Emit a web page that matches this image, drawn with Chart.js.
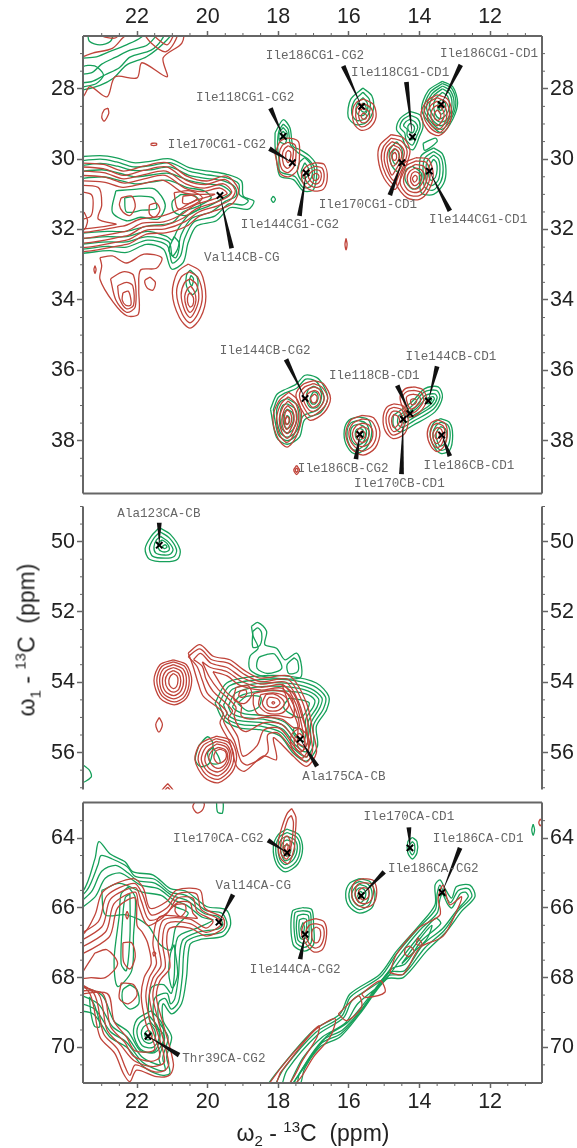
<!DOCTYPE html>
<html>
<head>
<meta charset="utf-8">
<title>13C-13C spectrum</title>
<script src="https://cdn.jsdelivr.net/npm/chart.js@4/dist/chart.umd.min.js"></script>
<style>
    html, body { margin: 0; background: #fff; }
    #page { position: relative; width: 577px; height: 1148px; overflow: hidden; font-family: "Liberation Sans", Arial, sans-serif; color: #222; }
    canvas { position: absolute; left: 0; filter: blur(0.3px); }
    .axis-title { position: absolute; font-size: 23px; white-space: nowrap; }
    .axis-title sub, .axis-title sup { font-size: 15px; line-height: 0; }
    #yTitle { left: 27px; top: 640px; transform: translate(-50%, -50%) rotate(-90deg); }
    #xTitle { left: 313px; top: 1133px; transform: translate(-50%, -50%); }
</style>
</head>
<body>
<div id="page">
    <canvas id="topPanel" width="577" height="500" style="top:0"></canvas>
    <canvas id="midPanel" width="577" height="296" style="top:500px"></canvas>
    <canvas id="lowPanel" width="577" height="352" style="top:796px"></canvas>
    <div class="axis-title" id="yTitle">&omega;<sub>1</sub> - <sup>13</sup>C&nbsp; (ppm)</div>
    <div class="axis-title" id="xTitle">&omega;<sub>2</sub> - <sup>13</sup>C&nbsp; (ppm)</div>
</div>
<script>
// ticks (ppm)
const xTicks = [22, 20, 18, 16, 14, 12];
const xMinor = [23, 22.5, 21.5, 21, 20.5, 19.5, 19, 18.5, 17.5, 17, 16.5, 15.5, 15, 14.5, 13.5, 13, 12.5, 11.5, 11];
const topYTicks = [28, 30, 32, 34, 36, 38];
const topYMinor = [27, 27.5, 28.5, 29, 29.5, 30.5, 31, 31.5, 32.5, 33, 33.5, 34.5, 35, 35.5, 36.5, 37, 37.5, 38.5, 39];
const midYTicks = [50, 52, 54, 56];
const midYMinor = [49, 49.5, 50.5, 51, 51.5, 52.5, 53, 53.5, 54.5, 55, 55.5, 56.5, 57];
const lowYTicks = [64, 66, 68, 70];
const lowYMinor = [63.5, 64.5, 65, 65.5, 66.5, 67, 67.5, 68.5, 69, 69.5, 70.5];

// assigned cross peaks, top panel
const topNames = ['Ile186CG1-CG2', 'Ile118CG1-CD1', 'Ile186CG1-CD1', 'Ile118CG1-CG2', 'Ile170CG1-CG2', 'Ile144CG1-CG2', 'Ile170CG1-CD1', 'Ile144CG1-CD1', 'Val14CB-CG', 'Ile144CB-CG2', 'Ile118CB-CD1', 'Ile144CB-CD1', 'Ile186CB-CG2', 'Ile170CB-CD1', 'Ile186CB-CD1'];
const topPeaks = [[15.64, 28.5], [14.2, 29.37], [13.39, 28.45], [17.86, 29.35], [17.6, 30.1], [17.21, 30.39], [14.5, 30.1], [13.72, 30.34], [19.65, 31.03], [17.24, 36.8], [14.27, 37.23], [13.75, 36.87], [15.69, 37.82], [14.46, 37.39], [13.37, 37.84]];
const topNameAt = [[16.96, 27.07], [14.55, 27.54], [12.03, 27.01], [18.94, 28.26], [19.74, 29.6], [17.67, 31.87], [15.46, 31.29], [12.34, 31.71], [19.03, 32.79], [18.37, 35.45], [15.28, 36.16], [13.11, 35.62], [16.16, 38.79], [14.57, 39.21], [12.6, 38.71]];
const topTails = [[16.16, 27.35], [14.37, 27.81], [12.83, 27.32], [18.22, 28.55], [18.25, 29.7], [17.4, 31.61], [14.84, 31.02], [13.14, 31.47], [19.32, 32.53], [17.78, 35.69], [14.63, 36.43], [13.5, 35.89], [15.8, 38.52], [14.51, 38.95], [13.14, 38.44]];

// middle panel
const midNames = ['Ala123CA-CB', 'Ala175CA-CB'];
const midPeaks = [[21.37, 50.1], [17.38, 55.62]];
const midNameAt = [[21.38, 49.2], [16.14, 56.68]];
const midTails = [[21.37, 49.46], [16.9, 56.39]];

// bottom panel
const lowNames = ['Ile170CA-CG2', 'Val14CA-CG', 'Thr39CA-CG2', 'Ile144CA-CG2', 'Ile186CA-CG2', 'Ile170CA-CD1', 'Ile186CA-CD1'];
const lowPeaks = [[17.75, 64.42], [19.68, 66.41], [21.69, 69.68], [17.24, 66.76], [15.65, 65.65], [14.27, 64.28], [13.36, 65.56]];
const lowNameAt = [[19.7, 64.03], [18.71, 65.36], [19.54, 70.31], [17.52, 67.78], [13.61, 64.88], [14.3, 63.4], [12.34, 64.02]];
const lowTails = [[18.29, 64.06], [19.28, 65.62], [20.81, 70.22], [17.38, 67.47], [15.0, 64.97], [14.3, 63.69], [12.85, 64.28]];

// contours: x,y,x,y... in ppm
const topGreen = [
    [24,28.05,23.54,28.03,23.05,27.9,22.67,27.7,22.29,27.32,21.73,27.09,21.16,26.62,20.97,26.3,24,26.3],
    [24,27.85,23.3,27.8,22.9,27.6,22.5,27.4,22.2,27.1,21.6,26.9,21.3,26.6,21.2,26.3,24,26.3],
    [24,27.6,23.3,27.55,23,27.3,22.6,27.1,22.2,26.9,21.7,26.75,21.4,26.3,24,26.3],
    [23.55,27.95,23.15,27.85,22.95,27.6,23.2,27.35,23.55,27.4],
    [24,27.15,23.2,27.1,22.8,26.95,22.3,26.75,21.9,26.55,21.7,26.3,24,26.3],
    [23.4,26.4,22.7,26.4,22.75,26.65,23.05,26.75,23.35,26.65],
    [24,29.96,23.05,29.9,22.58,29.96,22.1,30.1,21.63,30.06,21.07,29.99,20.5,30.25,19.98,30.34,19.46,30.43,19.04,30.62,18.99,31.05,18.69,31.19,18.85,31.42,19.37,31.38,19.75,31.75,20.31,31.9,20.55,32.37,20.69,32.93,21.02,33.12,21.25,32.56,21.73,32.42,22.29,32.65,22.76,32.6,24,32.56],
    [24,30.1,23.05,30.0,22.58,30.08,22.1,30.22,21.6,30.18,21.07,30.1,20.5,30.35,19.98,30.45,19.5,30.52,19.12,30.7,19.1,31.0,18.85,31.18,19.0,31.3,19.4,31.27,19.8,31.62,20.38,31.78,20.65,32.25,20.77,32.75,21.0,32.95,21.15,32.45,21.7,32.3,22.3,32.5,22.8,32.48,24,32.45],
    [24,30.25,23.05,30.12,22.55,30.2,22.1,30.32,21.6,30.3,21.07,30.22,20.5,30.47,20,30.55,19.55,30.62,19.22,30.8,19.2,31.05,19.5,31.2,19.9,31.5,20.45,31.68,20.75,32.15,20.85,32.55,21.0,32.75,21.1,32.35,21.7,32.2,22.3,32.35,22.8,32.35,24,32.3],
    [24,30.4,23,30.3,22.5,30.4,22.05,30.5,21.6,30.45,21.1,30.4,20.55,30.6,20.05,30.7,19.6,30.75,19.35,30.95,19.55,31.1,20,31.35,20.5,31.55,20.85,32,21,32.3,21.15,32.2,21.7,32.05,22.3,32.2,22.8,32.2,24,32.15],
    [24,30.6,23,30.5,22.5,30.6,22.05,30.7,21.6,30.65,21.1,30.6,20.6,30.8,20.1,30.9,19.9,31.1,20.3,31.35,20.7,31.5,21,31.8,21.7,31.9,22.3,32.05,22.8,32.05,24,32],
    [22.6,30.9,22,30.85,21.5,30.85,21.2,31.3,21.4,31.7,21.9,31.65,22.3,31.75,22.7,31.5],
    [22.35,31.1,21.95,31.05,21.55,31.1,21.45,31.4,21.85,31.45,22.3,31.5],
    [20.75,31.0,20.35,31.05,20.2,31.35,20.6,31.6,20.95,31.5,21,31.2],
    [20.95,32.2,20.8,32.4,20.9,32.8,21.1,32.6],
    [20.5,33.15,20.3,33.35,20.3,33.7,20.45,33.85,20.6,33.6,20.6,33.3],
    [20.47,33.3,20.4,33.4,20.45,33.6,20.52,33.45],
    [18.14,31.05,18.08,31.14,18.14,31.23,18.2,31.14],
    [15.6,27.98,15.35,28.2,15.31,28.6,15.5,28.95,15.8,29.02,16.02,28.8,15.95,28.3],
    [15.6,28.1,15.42,28.3,15.4,28.6,15.55,28.85,15.78,28.9,15.92,28.7,15.85,28.35],
    [15.6,28.25,15.48,28.4,15.47,28.6,15.58,28.75,15.72,28.75,15.8,28.6,15.75,28.4],
    [15.6,28.4,15.52,28.5,15.52,28.65,15.62,28.65,15.68,28.55],
    [13.35,27.79,13.05,27.95,12.92,28.4,13.05,28.85,13.35,29.25,13.65,29.05,13.94,28.6,13.75,28.05],
    [13.35,27.85,13.08,28.0,12.97,28.42,13.1,28.85,13.37,29.15,13.62,29,13.87,28.58,13.7,28.1],
    [13.35,27.92,13.12,28.06,13.02,28.45,13.15,28.85,13.38,29.05,13.6,28.92,13.8,28.55,13.65,28.15],
    [13.35,28.0,13.15,28.13,13.08,28.47,13.2,28.85,13.4,28.95,13.55,28.85,13.72,28.52,13.6,28.2],
    [13.35,28.1,13.2,28.22,13.15,28.5,13.25,28.75,13.42,28.85,13.55,28.72,13.6,28.45,13.52,28.25],
    [13.38,28.3,13.27,28.4,13.27,28.6,13.38,28.72,13.47,28.6,13.47,28.42],
    [13.4,28.48,13.35,28.55,13.4,28.62,13.44,28.55],
    [14.27,28.64,13.98,28.75,13.9,29.07,14.0,29.35,14.18,29.73,14.4,29.6,14.5,29.35,14.65,29.16,14.55,28.85],
    [14.27,28.75,14.05,28.85,13.98,29.07,14.08,29.35,14.2,29.6,14.38,29.45,14.42,29.25,14.55,29.1,14.47,28.88],
    [14.27,28.87,14.12,28.95,14.05,29.1,14.14,29.3,14.22,29.45,14.35,29.33,14.35,29.15,14.45,29.05,14.38,28.93],
    [14.27,28.98,14.18,29.03,14.14,29.12,14.2,29.25,14.3,29.2,14.33,29.07],
    [13.9,29.55,13.55,29.4,13.5,29.5,13.85,29.75],
    [13.6,29.68,13.35,29.85,13.25,30.3,13.32,30.7,13.6,31,13.95,30.95,14,30.3,13.95,29.9],
    [13.6,29.78,13.4,29.93,13.33,30.3,13.4,30.65,13.62,30.88,13.85,30.8,13.9,30.3,13.85,29.97],
    [13.6,29.88,13.46,30.0,13.42,30.3,13.47,30.6,13.65,30.75,13.8,30.65,13.82,30.3,13.78,30.05],
    [13.6,30.0,13.52,30.1,13.5,30.3,13.55,30.52,13.67,30.6,13.74,30.45,13.72,30.2],
    [14.65,29.5,14.5,29.7,14.48,30.1,14.62,30.35,14.8,30.15,14.85,29.75],
    [14.68,29.7,14.6,29.8,14.58,30,14.68,30.15,14.77,30,14.77,29.8],
    [14.2,30.2,13.95,30.4,14.0,30.75,14.2,30.85,14.4,30.6,14.38,30.3],
    [18.09,29.25,17.86,28.88,17.67,29.11,17.58,29.63,17.38,29.73,17.1,29.92,16.91,30.2,17.0,30.86,17.29,30.9,17.57,30.58,17.95,30.48,18.05,30.0,18.09,29.63],
    [17.86,29.0,17.72,29.15,17.65,29.6,17.42,29.83,17.15,30,16.98,30.25,17.05,30.75,17.3,30.8,17.52,30.5,17.95,30.35,17.98,30,18.02,29.6,17.98,29.2],
    [17.86,29.1,17.75,29.25,17.8,29.55,17.95,29.5,17.97,29.25],
    [17.86,29.2,17.8,29.3,17.85,29.42,17.92,29.3],
    [17.25,29.95,17.08,30.15,17.05,30.5,17.25,30.7,17.45,30.4,17.4,30.1],
    [17.25,30.1,17.15,30.25,17.15,30.45,17.28,30.55,17.35,30.35],
    [18.22,37.1,18.05,36.7,17.86,36.57,17.5,36.4,17.24,36.14,16.92,36.2,16.72,36.43,16.6,36.8,16.8,37.2,17.25,37.4,17.4,37.9,17.75,38.1,18.05,37.9],
    [18.14,37.12,18,36.77,17.82,36.65,17.47,36.5,17.22,36.25,16.95,36.3,16.8,36.5,16.7,36.8,16.88,37.12,17.3,37.3,17.47,37.82,17.75,38,18,37.82],
    [17.75,36.8,17.45,37,17.38,37.4,17.5,37.75,17.75,37.9,17.95,37.75,18.05,37.2,17.95,36.9],
    [17.75,36.95,17.52,37.1,17.47,37.4,17.58,37.68,17.75,37.78,17.9,37.65,17.95,37.25,17.88,37],
    [17.75,37.1,17.6,37.2,17.57,37.42,17.65,37.6,17.77,37.65,17.85,37.5,17.85,37.25],
    [17.75,37.28,17.68,37.35,17.7,37.5,17.78,37.53,17.8,37.4],
    [17.0,36.45,16.82,36.55,16.78,36.8,16.9,37.05,17.1,37.05,17.2,36.8,17.15,36.55],
    [17.0,36.6,16.9,36.65,16.87,36.8,16.95,36.95,17.05,36.95,17.1,36.8],
    [15.75,37.32,15.45,37.4,15.35,37.75,15.5,38.2,15.85,38.37,16.08,38.1,16.13,37.7,16,37.42],
    [15.75,37.42,15.52,37.5,15.43,37.77,15.55,38.12,15.85,38.27,16.02,38.03,16.05,37.72,15.95,37.5],
    [15.72,37.53,15.57,37.6,15.5,37.78,15.6,38.05,15.78,38.12,15.92,37.98,15.95,37.72,15.88,37.58],
    [15.68,37.65,15.6,37.7,15.58,37.85,15.67,37.98,15.78,37.95,15.82,37.8,15.78,37.68],
    [14.74,37.28,14.22,36.9,13.85,36.52,13.47,36.47,13.35,36.76,13.56,37.18,14.18,37.56,14.55,37.75,14.74,37.56],
    [14.6,37.3,14.22,37.02,13.87,36.62,13.52,36.57,13.42,36.76,13.6,37.1,14.18,37.45,14.5,37.62,14.62,37.5],
    [14.5,37.3,14.15,37.08,13.85,36.72,13.57,36.67,13.5,36.78,13.65,37.03,14.18,37.35,14.45,37.5],
    [14.35,37.25,14.1,37.1,13.83,36.82,13.62,36.75,13.58,36.82,13.72,37.0,14.15,37.27,14.33,37.35],
    [13.75,36.8,13.65,36.82,13.75,36.95,13.82,36.9],
    [13.4,37.37,13.15,37.48,13.06,37.85,13.15,38.28,13.4,38.36,13.6,38.15,13.7,37.8,13.6,37.5],
    [13.4,37.47,13.2,37.55,13.13,37.85,13.22,38.2,13.4,38.27,13.55,38.1,13.62,37.8,13.53,37.57],
    [13.4,37.6,13.27,37.66,13.22,37.85,13.3,38.1,13.42,38.15,13.5,38,13.53,37.8,13.47,37.67]
];

const topRed = [
    [24,28.5,23.53,28.23,23.33,27.94,22.85,28.23,22.62,27.66,22,27.69,21.86,27.26,21.15,27.66,21.26,27.12,20.73,26.7,20.73,26.3,24,26.3],
    [21.9,26.3,21.6,26.7,21.2,26.95,20.95,26.7,20.85,26.3],
    [21.7,26.3,21.4,26.6,21.15,26.75,21.0,26.55,20.95,26.3],
    [24,27.3,23.3,27.0,22.7,26.85,22.4,26.55,22.1,26.3,24,26.3],
    [23.2,26.3,23,26.5,22.6,26.55,22.5,26.3],
    [22.82,28.55,22.8,28.7,22.93,28.92,23.0,28.8,22.93,28.6],
    [21.6,29.55,21.45,29.55,21.45,29.6,21.6,29.6],
    [24,30.1,22.96,30.15,22.39,30.34,21.82,30.2,21.16,30.1,20.59,30.48,20.03,30.62,19.46,30.48,19.13,30.86,19.27,31.24,19.65,31.42,20.22,31.61,20.59,31.9,21.16,32.09,21.73,32.13,22.29,32.42,24,32.5],
    [24,30.2,22.96,30.27,22.39,30.46,21.82,30.32,21.16,30.22,20.6,30.6,20.05,30.72,19.5,30.58,19.22,30.88,19.35,31.15,19.7,31.32,20.25,31.5,20.65,31.78,21.2,31.98,21.75,32.02,22.3,32.3,24,32.4],
    [24,30.32,22.95,30.38,22.38,30.56,21.8,30.44,21.18,30.34,20.62,30.7,20.1,30.82,19.55,30.7,19.32,30.92,19.45,31.08,19.75,31.22,20.3,31.4,20.7,31.68,21.22,31.88,21.8,31.92,22.3,32.18,24,32.28],
    [24,30.45,22.95,30.5,22.35,30.68,21.8,30.56,21.2,30.46,20.65,30.82,20.15,30.92,19.65,30.82,19.45,30.98,19.85,31.14,20.35,31.3,20.75,31.58,21.25,31.78,21.85,31.82,22.35,32.06,24,32.15],
    [24,30.6,22.95,30.65,22.4,30.8,21.85,30.7,21.25,30.6,20.7,30.95,20.2,31.0,19.8,31.0,20.4,31.2,20.85,31.45,21.3,31.62,21.9,31.7,22.4,31.9,24,32],
    [24,30.75,23.1,30.8,23,31.3,23.1,31.7,22.6,31.85,24,31.9],
    [24,30.9,23.3,31,23.25,31.4,23.35,31.65,24,31.7],
    [23.5,31.5,23.4,31.75,23.5,32,23.6,31.75],
    [22.45,31.1,22.15,31.05,22.05,31.35,22.2,31.6,22.4,31.5,22.5,31.3],
    [21.65,31.3,21.45,31.25,21.35,31.45,21.5,31.65,21.65,31.55],
    [20.95,30.95,20.5,30.9,20.15,31.1,20.5,31.35,20.85,31.4],
    [20.7,31.05,20.45,31.03,20.3,31.12,20.5,31.25,20.7,31.25],
    [23.05,32.8,22.7,32.75,22.3,32.95,21.8,32.7,21.3,32.8,21.45,33.1,21.9,33.15,21.95,33.7,21.96,34.4,22.29,34.45,22.67,34.07,23.05,33.41,23.0,33.03],
    [22.75,33.4,22.4,33.2,22.1,33.3,22.05,34.2,22.3,34.35,22.6,34.0],
    [22.55,33.6,22.3,33.5,22.12,33.6,22.1,34.15,22.3,34.25,22.5,33.95],
    [22.4,33.8,22.25,33.75,22.18,33.95,22.18,34.15,22.32,34.15,22.42,34.0],
    [21.63,33.35,21.48,33.5,21.55,33.72,21.72,33.65,21.78,33.45],
    [23.19,33.03,23.16,33.13,23.19,33.25,23.22,33.13],
    [20.55,32.98,20.2,33.2,20.05,33.9,20.2,34.5,20.5,34.8,20.8,34.5,21,33.8,20.85,33.2],
    [20.52,33.2,20.28,33.35,20.15,33.9,20.28,34.4,20.5,34.65,20.72,34.4,20.88,33.8,20.75,33.35],
    [20.5,33.4,20.32,33.55,20.25,33.95,20.35,34.3,20.5,34.5,20.65,34.3,20.75,33.85,20.65,33.5],
    [20.48,33.6,20.38,33.75,20.33,34,20.4,34.25,20.5,34.35,20.6,34.2,20.65,33.9,20.58,33.7],
    [20.48,33.8,20.4,33.95,20.42,34.15,20.5,34.2,20.57,34.05,20.55,33.85],
    [15.58,28.29,15.3,28.45,15.23,28.8,15.4,29.1,15.65,29.18,15.85,29.0,15.89,28.6,15.78,28.38],
    [15.58,28.42,15.37,28.55,15.32,28.8,15.45,29.0,15.65,29.08,15.78,28.92,15.8,28.6,15.72,28.48],
    [15.58,28.55,15.43,28.65,15.42,28.82,15.52,28.95,15.65,28.95,15.72,28.8,15.7,28.62],
    [15.58,28.68,15.5,28.75,15.52,28.85,15.62,28.85,15.65,28.75],
    [13.5,28.17,13.2,28.3,13.09,28.7,13.2,29.1,13.45,29.33,13.75,29.2,13.96,28.75,13.8,28.35],
    [13.5,28.25,13.25,28.38,13.15,28.7,13.25,29.05,13.45,29.25,13.7,29.1,13.88,28.75,13.75,28.4],
    [13.5,28.35,13.3,28.48,13.22,28.72,13.3,29.0,13.47,29.15,13.68,29.02,13.78,28.75,13.68,28.47],
    [13.5,28.47,13.37,28.55,13.3,28.75,13.38,28.95,13.5,29.05,13.62,28.95,13.68,28.75,13.62,28.55],
    [13.5,28.6,13.42,28.68,13.4,28.8,13.47,28.9,13.57,28.85,13.58,28.7],
    [14.8,29.3,14.45,29.4,14.27,29.75,14.35,30.1,14.55,30.6,14.7,30.86,15.0,30.55,15.17,30.0,15.12,29.6],
    [14.8,29.4,14.5,29.5,14.35,29.78,14.42,30.1,14.6,30.5,14.72,30.72,14.95,30.45,15.08,30,15.02,29.65],
    [14.78,29.5,14.55,29.6,14.43,29.8,14.5,30.1,14.63,30.4,14.74,30.6,14.9,30.35,15,30,14.95,29.68],
    [14.75,29.6,14.58,29.68,14.5,29.85,14.55,30.08,14.67,30.3,14.78,30.45,14.87,30.25,14.92,29.95,14.87,29.72],
    [14.72,29.7,14.6,29.78,14.57,29.92,14.63,30.08,14.75,30.2,14.83,30.05,14.83,29.85],
    [14.7,29.8,14.65,29.88,14.67,30.02,14.75,30.02,14.77,29.88],
    [14.1,29.96,13.75,30.0,13.61,30.45,13.75,30.9,14.0,31.14,14.35,31.1,14.65,30.7,14.5,30.15],
    [14.1,30.05,13.8,30.1,13.7,30.45,13.82,30.85,14.02,31.04,14.33,31,14.55,30.68,14.42,30.22],
    [14.12,30.15,13.88,30.2,13.78,30.47,13.88,30.8,14.05,30.94,14.3,30.9,14.45,30.65,14.35,30.3],
    [14.12,30.25,13.95,30.3,13.85,30.5,13.95,30.72,14.1,30.85,14.27,30.78,14.35,30.55,14.28,30.35],
    [14.13,30.35,14.02,30.4,13.95,30.52,14.02,30.68,14.15,30.75,14.25,30.62,14.22,30.42],
    [14.13,30.45,14.07,30.5,14.08,30.6,14.15,30.65,14.2,30.55],
    [18.09,29.85,17.95,29.5,17.72,29.4,17.43,29.5,17.4,29.9,17.45,30.3,17.7,30.5,17.95,30.4],
    [17.72,29.52,17.52,29.6,17.5,29.9,17.55,30.2,17.72,30.38,17.9,30.28,17.97,29.85,17.88,29.6],
    [17.72,29.62,17.58,29.7,17.58,29.9,17.62,30.12,17.74,30.26,17.85,30.15,17.88,29.85,17.82,29.7],
    [17.72,29.75,17.65,29.8,17.65,29.95,17.72,30.1,17.78,30,17.78,29.82],
    [16.95,30.1,16.7,30.15,16.61,30.5,16.72,30.85,17.0,30.9,17.25,30.75,17.34,30.45,17.2,30.2],
    [16.95,30.2,16.76,30.25,16.7,30.5,16.78,30.75,16.98,30.8,17.17,30.68,17.25,30.45,17.13,30.28],
    [16.95,30.3,16.82,30.33,16.78,30.5,16.85,30.67,16.97,30.7,17.1,30.6,17.15,30.47,17.05,30.35],
    [16.94,30.4,16.87,30.43,16.85,30.52,16.92,30.6,17.0,30.58,17.03,30.47],
    [16.08,32.25,16.05,32.42,16.08,32.58,16.11,32.42],
    [17.0,36.29,16.72,36.38,16.52,36.8,16.7,37.2,17.1,37.42,17.35,37.1,17.5,36.7,17.3,36.4],
    [17.0,36.38,16.77,36.47,16.6,36.8,16.77,37.12,17.08,37.3,17.28,37.05,17.4,36.7,17.25,36.47],
    [16.98,36.47,16.82,36.55,16.7,36.8,16.82,37.05,17.05,37.17,17.22,37.0,17.3,36.72,17.18,36.55],
    [16.97,36.57,16.87,36.62,16.8,36.8,16.88,36.98,17.03,37.05,17.15,36.9,17.2,36.72,17.1,36.62],
    [16.97,36.67,16.9,36.75,16.93,36.9,17.03,36.92,17.08,36.78],
    [17.7,36.62,17.45,36.85,17.34,37.35,17.5,37.9,17.75,38.18,18,37.95,18.15,37.4,18.0,36.9],
    [17.72,36.75,17.5,36.95,17.42,37.37,17.55,37.82,17.75,38.05,17.95,37.85,18.05,37.4,17.93,36.97],
    [17.72,36.87,17.55,37.05,17.48,37.38,17.6,37.75,17.75,37.93,17.9,37.75,17.97,37.4,17.87,37.05],
    [17.73,37,17.6,37.13,17.55,37.4,17.64,37.65,17.75,37.8,17.86,37.66,17.9,37.4,17.83,37.12],
    [17.74,37.12,17.65,37.22,17.62,37.42,17.68,37.58,17.76,37.68,17.82,37.55,17.83,37.38,17.8,37.2],
    [17.75,37.3,17.7,37.36,17.7,37.48,17.76,37.54,17.8,37.42],
    [15.62,37.28,15.3,37.35,15.12,37.75,15.25,38.2,15.6,38.41,15.95,38.2,16.09,37.8,15.95,37.42],
    [15.62,37.38,15.35,37.45,15.22,37.77,15.33,38.13,15.62,38.3,15.88,38.12,16,37.8,15.88,37.5],
    [15.62,37.5,15.42,37.56,15.32,37.78,15.4,38.05,15.63,38.17,15.82,38.03,15.9,37.8,15.8,37.58],
    [15.62,37.6,15.48,37.65,15.42,37.8,15.5,37.98,15.63,38.05,15.75,37.95,15.8,37.8,15.73,37.67],
    [15.62,37.72,15.55,37.76,15.53,37.85,15.6,37.94,15.68,37.88,15.68,37.77],
    [14.72,36.95,14.45,37.02,14.32,37.4,14.42,37.8,14.75,37.94,14.97,37.72,15.03,37.35,14.93,37.05],
    [14.72,37.05,14.5,37.12,14.4,37.42,14.5,37.72,14.75,37.84,14.9,37.65,14.95,37.35,14.87,37.12],
    [14.72,37.15,14.55,37.2,14.48,37.42,14.56,37.65,14.73,37.74,14.83,37.6,14.87,37.37,14.8,37.2],
    [14.72,37.25,14.62,37.3,14.56,37.43,14.63,37.57,14.72,37.63,14.78,37.52,14.78,37.35],
    [14.15,36.47,13.9,36.55,13.8,36.85,14.0,37.2,14.25,37.32,14.45,37.1,14.55,36.75,14.4,36.52],
    [14.15,36.57,13.95,36.63,13.88,36.85,14.05,37.12,14.25,37.22,14.38,37.05,14.47,36.75,14.35,36.6],
    [14.15,36.68,14.02,36.72,13.97,36.87,14.1,37.03,14.25,37.1,14.33,36.97,14.37,36.77,14.28,36.7],
    [14.15,36.8,14.08,36.85,14.12,36.95,14.22,36.98,14.25,36.85],
    [13.5,37.4,13.28,37.5,13.21,37.8,13.3,38.15,13.5,38.31,13.68,38.15,13.78,37.8,13.68,37.5],
    [13.5,37.5,13.33,37.58,13.28,37.82,13.37,38.1,13.5,38.2,13.63,38.08,13.7,37.82,13.62,37.57],
    [13.5,37.62,13.38,37.68,13.35,37.83,13.42,38.02,13.52,38.08,13.6,37.97,13.62,37.8,13.56,37.68],
    [13.5,37.73,13.44,37.78,13.45,37.9,13.52,37.95,13.56,37.85],
    [17.48,38.7,17.4,38.83,17.48,38.96,17.56,38.83],
    [17.48,38.77,17.44,38.83,17.48,38.9,17.52,38.83]
];

const midGreen = [
    [21.37,49.6,21.05,49.8,20.78,50.23,20.85,50.5,21.2,50.57,21.65,50.5,21.77,50.2,21.6,49.85],
    [21.35,49.72,21.08,49.9,20.88,50.23,20.95,50.42,21.2,50.47,21.55,50.42,21.65,50.18,21.52,49.9],
    [21.33,49.85,21.12,50,20.98,50.22,21.05,50.35,21.22,50.38,21.47,50.32,21.52,50.15,21.45,49.95],
    [21.28,49.95,21.15,50.05,21.08,50.2,21.15,50.28,21.3,50.28,21.4,50.18,21.38,50.02],
    [21.2,50.08,21.15,50.15,21.22,50.2,21.28,50.14],
    [19.79,54.59,19.46,54.02,18.62,53.83,17.67,53.83,16.92,54.02,16.57,54.4,16.63,54.78,16.92,55.25,16.89,55.82,17.2,56.24,17.58,56.01,17.95,55.53,18.52,55.35,19.09,55.3,19.56,55.06],
    [19.68,54.62,19.38,54.1,18.6,53.93,17.68,53.93,17,54.1,16.66,54.42,16.72,54.75,17,55.22,17,55.78,17.22,56.12,17.55,55.9,17.92,55.43,18.5,55.25,19.08,55.2,19.5,55],
    [19.55,54.65,19.3,54.2,18.55,54.03,17.7,54.03,17.08,54.18,16.76,54.45,16.82,54.72,17.08,55.18,17.08,55.7,17.22,55.98,17.5,55.8,17.88,55.33,18.45,55.15,19.05,55.1,19.4,54.95],
    [19.42,54.68,19.2,54.3,18.55,54.13,17.72,54.13,17.15,54.25,16.86,54.47,16.9,54.7,17.15,55.12,17.15,55.62,17.25,55.85,17.48,55.7,17.85,55.23,18.42,55.05,19,55,19.32,54.88],
    [19.3,54.7,19.1,54.4,18.5,54.25,17.75,54.25,17.22,54.33,16.97,54.5,17,54.68,17.22,55.05,17.22,55.5,17.3,55.7,17.45,55.55,17.82,55.13,18.4,54.95,18.95,54.9,19.2,54.8],
    [19.15,54.6,18.9,54.4,18.5,54.42,18.55,54.7,18.85,54.82],
    [17.7,54.45,17.35,54.5,17.12,54.6,17.35,55,17.65,54.9,17.85,54.7],
    [17.4,55.3,17.3,55.5,17.38,55.62,17.55,55.5,17.55,55.3],
    [18.76,52.41,18.57,52.3,18.33,52.55,18.38,52.93,18.05,53.03,17.81,53.36,17.48,53.17,17.34,53.55,17.39,53.88,18.43,53.83,18.8,53.64,18.8,53.26,18.57,53.03,18.71,52.69],
    [18.72,52.55,18.58,52.45,18.47,52.6,18.52,52.95,18.72,53.0],
    [18.3,53.2,18.1,53.2,17.9,53.6,18.3,53.75,18.6,53.6,18.55,53.3],
    [17.55,53.3,17.45,53.4,17.45,53.7,17.7,53.75,17.75,53.5],
    [20.25,55.8,20,55.55,19.85,55.75,19.95,56.3,20.2,56.4,20.35,56.2],
    [19.85,55.85,19.7,56.1,19.65,56.3,19.9,56.3,20,56],
    [23.6,56.3,23.35,56.5,23.3,56.7,23.6,56.85]
];

const midRed = [
    [20.97,53.36,20.6,53.5,20.45,53.95,20.6,54.45,20.95,54.64,21.35,54.45,21.52,53.95,21.35,53.5],
    [20.97,53.42,20.64,53.56,20.52,53.95,20.65,54.4,20.95,54.56,21.3,54.38,21.44,53.95,21.3,53.55],
    [20.97,53.5,20.7,53.62,20.6,53.95,20.7,54.33,20.96,54.47,21.25,54.32,21.36,53.95,21.25,53.62],
    [20.97,53.58,20.76,53.68,20.68,53.95,20.76,54.25,20.96,54.38,21.2,54.25,21.28,53.95,21.18,53.68],
    [20.97,53.67,20.82,53.75,20.76,53.95,20.82,54.2,20.96,54.28,21.13,54.18,21.2,53.95,21.12,53.75],
    [20.97,53.75,20.87,53.82,20.84,53.95,20.88,54.12,20.97,54.18,21.07,54.1,21.1,53.95,21.05,53.82],
    [20.55,53.17,20.22,52.93,19.84,53.26,19.37,53.36,18.99,53.64,18.52,53.88,17.67,53.83,17.2,54.59,17.01,55.44,16.92,56.01,17.2,56.39,17.58,56.1,17.95,55.72,18.14,55.58,18.05,56.2,18.43,56.1,18.95,56.53,19.18,56.39,19.37,55.72,19.65,55.16,19.56,54.87,20.12,54.4,20.27,54.02,20.41,53.55],
    [20.55,53.27,20.22,53.05,19.88,53.36,19.4,53.46,19.0,53.75,18.5,53.98,17.72,53.92,17.3,54.6,17.1,55.45,17.03,55.95,17.2,56.27,17.53,56,18.0,55.45,18.3,55.5,18.3,56,18.85,56.35,19.05,56.25,19.25,55.65,19.55,55.1,19.45,54.85,20,54.32,20.15,53.95,20.3,53.55],
    [20.4,53.35,20.2,53.18,19.9,53.46,19.45,53.58,19.05,53.85,18.5,54.05,17.78,54,17.4,54.62,17.2,55.45,17.14,55.9,17.2,56.13,17.5,55.88,17.95,55.32,18.4,55.35,18.6,55.8,19,56.1,19.15,55.55,19.42,55.05,19.3,54.8,19.85,54.25,20.05,53.9,20.15,53.55],
    [20.15,53.42,19.92,53.58,19.45,53.7,19.05,53.97,18.5,54.14,17.85,54.08,17.5,54.62,17.3,55.4,17.25,55.82,17.45,55.72,17.9,55.2,18.4,55.15,18.9,55.4,19.1,55.3,19.25,54.95,19.2,54.7,19.7,54.2,19.95,53.85],
    [19.85,53.7,19.45,53.82,19.1,54.08,18.5,54.22,17.9,54.17,17.58,54.62,17.4,55.25,17.55,55.3,17.9,55.05,18.4,55,18.8,55.05,19.05,54.95,19.05,54.65,19.5,54.25],
    [18.7,54.32,18.14,54.22,17.7,54.35,17.55,54.7,17.6,55.0,18.0,54.95,18.55,54.92,18.7,54.65],
    [18.5,54.35,18.14,54.3,17.82,54.4,17.7,54.65,17.9,54.88,18.3,54.88,18.55,54.65],
    [18.35,54.35,18.14,54.33,17.92,54.45,17.83,54.62,18,54.8,18.3,54.8,18.45,54.6],
    [18.25,54.42,18.02,54.47,17.95,54.6,18.1,54.72,18.28,54.68,18.32,54.52],
    [18.14,54.55,18.1,54.58,18.14,54.62,18.18,54.58],
    [19.2,54.15,18.85,54.1,18.75,54.35,18.95,54.6,19.25,54.5],
    [19.08,54.25,18.92,54.22,18.9,54.35,19.02,54.43,19.12,54.38],
    [17.9,54.05,17.55,54.35,17.32,55,17.15,55.6,17.3,55.95,17.45,55.8,17.45,55.2,17.7,54.6],
    [17.4,55.3,17.18,55.5,17.12,55.8,17.3,56.15,17.5,56.05,17.65,55.75,17.6,55.45],
    [17.4,55.45,17.27,55.58,17.25,55.8,17.35,55.98,17.5,55.9,17.55,55.7,17.5,55.52],
    [19.75,55.53,19.35,55.65,19.18,56.1,19.3,56.55,19.7,56.86,20.1,56.7,20.36,56.2,20.2,55.75],
    [19.75,55.6,19.4,55.72,19.26,56.1,19.37,56.5,19.7,56.76,20.05,56.62,20.27,56.2,20.13,55.8],
    [19.75,55.68,19.45,55.78,19.33,56.1,19.43,56.44,19.7,56.66,20.0,56.54,20.18,56.2,20.05,55.85],
    [19.73,55.75,19.47,55.85,19.38,56.1,19.47,56.38,19.7,56.55,19.95,56.46,20.08,56.2,19.97,55.92],
    [19.7,55.85,19.5,55.92,19.43,56.1,19.5,56.32,19.7,56.45,19.88,56.35,19.97,56.15,19.88,55.95],
    [19.65,55.9,19.5,55.97,19.47,56.12,19.55,56.25,19.72,56.3,19.82,56.15,19.78,55.97],
    [21.37,55,21.28,55.2,21.38,55.42,21.47,55.2],
    [21.13,56.88,20.97,57.1,21.3,57.1],
    [21.13,56.98,21.05,57.1,21.22,57.1]
];

const lowGreen = [
    [24,65.5,23.54,65.53,23.19,64.59,23.08,64.1,22.77,64.45,22.34,64.68,22.11,64.97,21.54,65.06,21.07,65.44,20.6,65.53,20.03,65.96,19.47,66.06,19.35,66.48,19.56,66.81,20.22,66.91,20.5,67.05,20.6,68,20.74,68.75,21.02,69.04,21.26,68.75,21.26,69.23,21.02,69.7,21.16,70.27,21.07,70.74,21.35,70.79,21.82,70.55,22.3,69.99,22.77,69.7,23.24,69.04,24,68.8],
    [24,66,23.42,65.5,23.1,64.75,23.02,64.5,22.7,64.6,22.28,64.82,22.05,65.1,21.5,65.18,21.05,65.55,20.6,65.65,20.05,66.07,19.6,66.15,19.45,66.48,19.6,66.7,20.25,66.8,20.62,67,20.72,68,20.83,68.7,21.03,68.9,21.2,68.6,21.38,68.7,21.38,69.25,21.12,69.7,21.27,70.3,21.2,70.65,21.4,70.65,21.85,70.42,22.3,69.85,22.75,69.55,23.2,68.9,24,68.5],
    [24,66.15,23.3,65.55,23,64.95,22.6,64.78,22.25,65,21.98,65.22,21.48,65.3,21,65.65,20.6,65.78,20.08,66.17,19.7,66.25,19.57,66.48,19.7,66.6,20.28,66.7,20.72,66.95,20.83,68,20.93,68.6,21.05,68.75,21.15,68.45,21.5,68.6,21.5,69.3,21.22,69.7,21.38,70.3,21.35,70.5,21.85,70.28,22.28,69.7,22.7,69.4,23.1,68.75,24,68.2],
    [24,66.3,23.2,65.7,22.9,65.15,22.5,65,22.2,65.15,21.9,65.35,21.4,65.45,20.95,65.78,20.6,65.92,20.15,66.27,19.85,66.35,20.3,66.58,20.85,66.85,20.95,68,21.03,68.45,21.25,68.2,21.6,68.3,21.65,69.2,21.35,69.6,21.5,70.1,21.9,70.1,22.25,69.55,22.65,69.25,23,68.5,24,68],
    [23,65.5,22.5,65.3,21.85,65.55,21.3,65.65,20.95,65.95,20.55,66.15,20.9,66.55,21.05,67.2,21.35,67.05,21.7,66.5,22.3,66.2,22.9,66.2],
    [22.25,65.4,22.05,65.7,22.1,66.8,22.15,67.8,22.55,68.25,22.65,67.5,22.5,66.2,22.45,65.6],
    [22.2,65.6,22.2,66.8,22.3,67.8,22.45,67.6,22.4,66.2,22.33,65.7],
    [20.95,67.05,20.85,67.9,21.0,68.3,21.1,67.9,21.05,67.3],
    [21.6,68.95,21.3,69.3,21.25,69.8,21.5,70.15,21.9,70.05,22.1,69.6,22,69.2],
    [21.65,69.1,21.42,69.4,21.38,69.75,21.55,70,21.85,69.95,22,69.6,21.92,69.3],
    [21.65,69.3,21.5,69.5,21.48,69.72,21.62,69.88,21.8,69.82,21.88,69.6,21.82,69.42],
    [21.68,69.5,21.58,69.6,21.6,69.75,21.72,69.78,21.78,69.6],
    [22.2,68.2,22,68.35,21.95,68.75,22.2,68.9,22.4,68.7,22.4,68.35],
    [23.35,68.55,23.2,68.8,23.05,69.4,23.2,69.4,23.3,69.05],
    [19.75,62.9,19.58,62.9,19.58,63.28,19.72,63.25],
    [17.75,63.74,17.42,63.9,17.31,64.3,17.45,64.75,17.8,64.97,18.05,64.75,18.14,64.25,18,63.9],
    [17.75,63.84,17.47,63.98,17.38,64.3,17.5,64.68,17.8,64.87,18,64.68,18.07,64.25,17.95,63.95],
    [17.75,63.95,17.53,64.05,17.46,64.3,17.56,64.6,17.8,64.76,17.96,64.6,18,64.25,17.9,64.02],
    [17.75,64.05,17.58,64.13,17.53,64.32,17.62,64.55,17.8,64.65,17.9,64.5,17.93,64.27,17.85,64.1],
    [17.75,64.18,17.66,64.25,17.65,64.4,17.75,64.52,17.85,64.42,17.85,64.25],
    [15.7,65.16,15.4,65.25,15.26,65.6,15.35,66,15.7,66.15,16,65.95,16.09,65.6,15.98,65.3],
    [15.7,65.24,15.45,65.33,15.34,65.6,15.43,65.92,15.7,66.05,15.93,65.88,16.0,65.6,15.9,65.35],
    [15.7,65.33,15.5,65.4,15.43,65.6,15.5,65.85,15.7,65.95,15.87,65.8,15.92,65.6,15.83,65.42],
    [15.7,65.42,15.56,65.48,15.52,65.62,15.58,65.78,15.7,65.85,15.8,65.72,15.83,65.6,15.77,65.48],
    [15.68,65.52,15.62,65.57,15.62,65.68,15.7,65.74,15.75,65.65],
    [14.2,63.98,14.07,64.1,14.07,64.42,14.2,64.6,14.33,64.42,14.33,64.1],
    [14.2,64.1,14.14,64.18,14.14,64.38,14.2,64.48,14.27,64.38,14.27,64.18],
    [10.78,63.6,10.74,63.76,10.78,63.92,10.82,63.76],
    [17.3,65.99,17.05,66.05,17.0,66.5,17.0,67.05,17.25,67.24,17.58,67.05,17.6,66.1],
    [17.3,66.08,17.1,66.13,17.07,66.5,17.07,67,17.27,67.13,17.5,66.98,17.53,66.15],
    [17.3,66.18,17.15,66.22,17.13,66.5,17.15,66.93,17.3,67.02,17.45,66.9,17.46,66.25],
    [17.3,66.3,17.2,66.33,17.2,66.55,17.22,66.85,17.33,66.9,17.4,66.78,17.4,66.35],
    [17.3,66.42,17.26,66.55,17.3,66.75,17.36,66.6],
    [18.33,71.1,17.95,70.6,17.0,69.51,16.25,69.04,15.97,68.47,15.12,67.9,14.65,67.24,13.99,66.48,13.56,65.91,13.56,65.35,13.42,65.2,13.28,65.44,13.09,65.72,12.95,65.39,12.57,65.35,12.43,65.68,12.81,66.1,13.23,66.67,13.8,67.24,14.46,68,14.93,68.04,15.69,69.04,16.25,69.7,16.82,69.99,17.57,71,17.7,71.1],
    [18.1,71.1,17.85,70.62,16.95,69.58,16.2,69.1,15.95,68.55,15.1,67.97,14.65,67.32,14.0,66.55,13.55,66.05,13.5,65.6,13.42,65.35,13.32,65.55,13.12,65.85,12.9,65.5,12.62,65.45,12.52,65.68,12.9,66.08,13.3,66.65,13.85,67.15,14.45,67.9,14.9,67.95,15.65,68.95,16.22,69.6,16.8,69.9,17.5,70.9,17.6,71.1],
    [17.9,71.1,17.75,70.65,16.9,69.65,16.15,69.15,15.9,68.65,15.05,68.05,14.6,67.4,14,66.65,13.5,66.15,13.42,65.75,13.35,65.6,13.2,65.9,13.08,66,12.85,65.6,12.7,65.55,12.62,65.68,12.95,66.08,13.35,66.6,13.9,67.05,14.42,67.8,14.85,67.85,15.6,68.85,16.18,69.5,16.75,69.8,17.4,70.75,17.5,71.1],
    [17.7,71.1,17.3,70.3,16.75,69.7,16.1,69.3,15.75,68.75,15,68.1,14.55,67.5,14,66.8,13.55,66.3,13.4,66.45,13.95,66.95,14.4,67.6,14.8,67.75,15.5,68.65,16.05,69.3,16.65,69.7,17.25,70.6,17.4,71.1],
    [14.5,67.6,14,66.9,13.65,66.5,13.8,66.9,14.2,67.3]
];

const lowRed = [
    [24,66.8,23.54,66.77,23.19,66.2,22.96,65.53,22.11,65.16,21.82,65.44,21.63,66.01,21.16,65.82,20.88,65.49,20.22,65.49,20.08,66.01,19.56,66.29,19.56,66.58,20.03,66.81,20.5,66.58,21.07,66.58,21.16,66.96,21.07,67.71,21.35,68.09,21.45,68.57,21.26,69.32,20.97,70.46,21.07,70.79,21.45,70.84,22.01,70.65,22.2,70.98,22.39,70.74,22.63,70.17,23.05,69.7,23.33,68.47,24,67.7],
    [24,66.95,23.1,66.4,22.85,65.65,22.08,65.3,21.85,65.6,21.6,66.2,21.15,66,20.85,65.6,20.32,65.6,20.18,66.05,19.65,66.35,19.65,66.52,20.05,66.7,20.5,66.45,21.15,66.45,21.28,66.96,21.2,67.7,21.45,68.05,21.55,68.55,21.38,69.3,21.1,70.45,21.2,70.65,21.5,70.7,22.05,70.5,22.2,70.8,22.32,70.6,22.55,70.05,22.95,69.6,23.22,68.45,24,67.9],
    [24,67.15,23,66.55,22.75,65.75,22.05,65.42,21.88,65.8,21.65,66.35,21.15,66.15,20.85,65.72,20.42,65.72,20.3,66.1,19.85,66.38,20.05,66.58,20.5,66.32,21.25,66.35,21.4,67,21.32,67.65,21.55,68.02,21.65,68.55,21.5,69.3,21.22,70.4,21.55,70.55,22.08,70.38,22.45,69.95,22.85,69.5,23.1,68.45,24,68.1],
    [24,67.35,22.9,66.7,22.65,65.88,22.05,65.55,21.95,65.95,21.7,66.5,21.3,66.3,20.85,65.85,20.5,65.85,20.42,66.15,20.3,66.3,21.35,66.25,21.55,67,21.45,67.6,21.65,68,21.75,68.55,21.62,69.3,21.35,70.25,21.6,70.4,22.1,70.25,22.35,69.85,22.75,69.4,22.98,68.45,24,68.3],
    [24,67.55,22.8,66.85,22.55,66,22.05,65.72,22,66.5,21.85,66.7,21.7,67,21.6,67.6,21.8,68,21.88,68.55,21.75,69.3,21.5,70.05,22.05,70.1,22.3,69.7,22.65,69.25,22.85,68.45,24,68.45],
    [23.2,67.3,22.85,67.2,22.55,67.6,22.9,68,23.3,68,23.6,68],
    [22.4,67.0,22.15,67,22.05,67.4,22.2,67.75,22.38,67.55],
    [22.45,68.15,22.1,68.2,22.0,68.5,22.25,68.75,22.5,68.6],
    [22.28,66.1,22.24,66.2,22.28,66.32,22.32,66.2],
    [21.52,67.25,21.47,67.3,21.52,67.38,21.55,67.3],
    [20.9,65.9,20.65,65.9,20.62,66.08,20.77,66.25,20.92,66.1],
    [20.32,62.9,20.1,63,20.15,63.2,20.3,63.28,20.42,63.1],
    [17.62,63.15,17.5,63.4,17.52,63.9,17.55,64.3,17.72,64.73,17.95,64.55,18.0,64.1,17.9,63.7,17.75,63.3],
    [17.63,63.35,17.57,63.55,17.6,64,17.65,64.3,17.75,64.6,17.92,64.45,17.92,64.1,17.82,63.75,17.72,63.45],
    [17.72,63.95,17.66,64.1,17.7,64.35,17.78,64.5,17.86,64.35,17.85,64.1,17.8,63.95],
    [17.75,64.15,17.72,64.25,17.77,64.38,17.82,64.28],
    [15.6,65.16,15.3,65.22,15.21,65.55,15.32,65.9,15.6,65.99,15.85,65.82,15.92,65.5,15.82,65.25],
    [15.6,65.28,15.36,65.32,15.3,65.55,15.4,65.82,15.6,65.88,15.78,65.75,15.82,65.5,15.75,65.33],
    [15.6,65.42,15.46,65.45,15.42,65.58,15.48,65.73,15.62,65.77,15.7,65.65,15.72,65.5],
    [10.58,63.45,10.53,63.55,10.58,63.65,10.62,63.55],
    [16.95,66.31,16.7,66.4,16.63,66.75,16.75,67.2,17,67.26,17.2,67.05,17.34,66.75,17.25,66.42],
    [16.95,66.45,16.75,66.52,16.7,66.78,16.8,67.08,16.98,67.15,17.15,66.98,17.22,66.72,17.12,66.5],
    [16.92,66.55,16.82,66.62,16.8,66.8,16.87,66.98,16.97,67,17.05,66.85,17.03,66.62],
    [17.95,70.74,17.38,69.99,16.91,69.46,16.39,69.18,16.53,69.7,17.0,70.27,17.48,71,18.04,71.1],
    [18.3,71.1,17.9,70.55,17.3,69.85,16.85,69.38,16.9,69.7,17.3,70.35,17.75,71.1],
    [16.3,69.04,15.73,68.52,15.64,68.85,16.06,69.23],
    [15.64,68.47,15.12,68.09,14.98,68.42,15.54,68.57],
    [14.84,67.86,14.65,67.33,14.03,66.58,13.42,66.2,13.47,65.72,13.33,65.35,13.14,65.91,12.81,65.68,12.95,66.1,13.33,66.81,13.99,67.14,14.46,67.9],
    [14.4,67.15,14.27,67.1,14.15,67.25,14.3,67.4,14.42,67.3],
    [14.05,66.85,13.92,67.05,14.08,67.05]
];

const GREEN = '#16a05a';
const RED = '#c0443a';
const INK = '#666';

// contour outline to closed point list
function contourPoints(flat) {
    const points = [];
    for (let i = 0; i < flat.length; i += 2) {
        points.push({ x: flat[i], y: flat[i + 1] });
    }
    points.push(points[0]);
    return points;
}

function contourSets(list, color) {
    return list.map(flat => ({
        data: contourPoints(flat),
        borderColor: color,
        borderWidth: 1.3,
        showLine: true,
        pointRadius: 0,
        tension: 0.3,
        fill: false
    }));
}

// frame, minor ticks, leaders and peak names
const panelDeco = {
    id: 'panelDeco',
    afterDraw(chart, args, opts) {
        const { ctx, chartArea: a, scales } = chart;
        ctx.save();
        ctx.strokeStyle = INK;
        ctx.lineWidth = 2;
        ctx.beginPath();
        ctx.moveTo(a.left, a.top);
        ctx.lineTo(a.left, a.bottom);
        ctx.moveTo(a.right, a.top);
        ctx.lineTo(a.right, a.bottom);
        if (opts.frameX) {
            ctx.moveTo(a.left, a.top);
            ctx.lineTo(a.right, a.top);
            ctx.moveTo(a.left, a.bottom);
            ctx.lineTo(a.right, a.bottom);
        }
        ctx.stroke();

        ctx.lineWidth = 1;
        ctx.beginPath();
        opts.yMinor.forEach(v => {
            const py = scales.y.getPixelForValue(v);
            ctx.moveTo(a.left - 3, py);
            ctx.lineTo(a.left, py);
            ctx.moveTo(a.right, py);
            ctx.lineTo(a.right + 3, py);
        });
        if (opts.xSide) {
            const edge = opts.xSide === 'top' ? a.top : a.bottom;
            const dir = opts.xSide === 'top' ? -3 : 3;
            xMinor.forEach(v => {
                const px = scales.x.getPixelForValue(v);
                ctx.moveTo(px, edge);
                ctx.lineTo(px, edge + dir);
            });
        }
        ctx.stroke();

        // tapered leader from name to peak
        ctx.fillStyle = '#111';
        opts.peaks.forEach((peak, i) => {
            const x1 = scales.x.getPixelForValue(opts.tails[i][0]);
            const y1 = scales.y.getPixelForValue(opts.tails[i][1]);
            const x2 = scales.x.getPixelForValue(peak[0]);
            const y2 = scales.y.getPixelForValue(peak[1]);
            const len = Math.hypot(x2 - x1, y2 - y1) || 1;
            const nx = -(y2 - y1) / len * 2.4;
            const ny = (x2 - x1) / len * 2.4;
            ctx.beginPath();
            ctx.moveTo(x1 + nx, y1 + ny);
            ctx.lineTo(x1 - nx, y1 - ny);
            ctx.lineTo(x2, y2);
            ctx.closePath();
            ctx.fill();
        });

        ctx.fillStyle = INK;
        ctx.font = '12.6px "Liberation Mono", "Courier New", monospace';
        ctx.textAlign = 'center';
        ctx.textBaseline = 'middle';
        opts.names.forEach((name, i) => {
            ctx.fillText(name,
                scales.x.getPixelForValue(opts.nameAt[i][0]),
                scales.y.getPixelForValue(opts.nameAt[i][1]));
        });
        ctx.restore();
    }
};

function noPadding(s) {
    s.paddingLeft = s.paddingRight = s.paddingTop = s.paddingBottom = 0;
}

function createPanel(canvasId, cfg) {
    const tickFont = { family: '"Liberation Sans", Arial, sans-serif', size: 21.5 };
    const yAxis = (position, width) => ({
        type: 'linear',
        position: position,
        min: cfg.yMin,
        max: cfg.yMax,
        reverse: true,
        afterBuildTicks: s => { s.ticks = cfg.yTicks.map(v => ({ value: v })); },
        afterFit: s => { s.width = width; noPadding(s); },
        grid: { drawOnChartArea: false, tickLength: 6, tickColor: INK, tickWidth: 1.5 },
        border: { display: false },
        ticks: { color: '#222', font: tickFont, padding: 2, autoSkip: false, callback: v => String(v) }
    });

    return new Chart(document.getElementById(canvasId), {
        type: 'scatter',
        data: {
            datasets: [
                ...contourSets(cfg.green, GREEN),
                ...contourSets(cfg.red, RED),
                {
                    data: cfg.peaks.map(p => ({ x: p[0], y: p[1] })),
                    pointStyle: 'crossRot',
                    pointRadius: 4.5,
                    borderWidth: 2,
                    borderColor: '#000',
                    showLine: false
                }
            ].reverse()
        },
        options: {
            responsive: false,
            animation: false,
            events: [],
            layout: { padding: cfg.padding },
            plugins: {
                legend: { display: false },
                tooltip: { enabled: false },
                panelDeco: {
                    yMinor: cfg.yMinor,
                    xSide: cfg.xSide,
                    frameX: cfg.frameX,
                    peaks: cfg.peaks,
                    tails: cfg.tails,
                    names: cfg.names,
                    nameAt: cfg.nameAt
                }
            },
            scales: {
                x: {
                    type: 'linear',
                    display: !!cfg.xSide,
                    position: cfg.xSide || 'bottom',
                    min: 10.53,
                    max: 23.53,
                    reverse: true,
                    afterBuildTicks: s => { s.ticks = xTicks.map(v => ({ value: v })); },
                    afterFit: s => { s.height = cfg.xHeight; noPadding(s); },
                    grid: { drawOnChartArea: false, tickLength: 5, tickColor: INK, tickWidth: 1.5 },
                    border: { display: false },
                    ticks: { color: '#222', font: tickFont, padding: 1, autoSkip: false, maxRotation: 0, callback: v => String(v) }
                },
                y: yAxis('left', 83),
                yRight: yAxis('right', 35)
            }
        },
        plugins: [panelDeco]
    });
}

createPanel('topPanel', {
    yMin: 26.5, yMax: 39.5, yTicks: topYTicks, yMinor: topYMinor,
    green: topGreen, red: topRed,
    peaks: topPeaks, tails: topTails, names: topNames, nameAt: topNameAt,
    xSide: 'top', xHeight: 36, frameX: true,
    padding: { top: 0, bottom: 5 }
});

createPanel('midPanel', {
    yMin: 49, yMax: 57.05, yTicks: midYTicks, yMinor: midYMinor,
    green: midGreen, red: midRed,
    peaks: midPeaks, tails: midTails, names: midNames, nameAt: midNameAt,
    xSide: null, xHeight: 0, frameX: false,
    padding: { top: 6, bottom: 5 }
});

createPanel('lowPanel', {
    yMin: 62.98, yMax: 71.02, yTicks: lowYTicks, yMinor: lowYMinor,
    green: lowGreen, red: lowRed,
    peaks: lowPeaks, tails: lowTails, names: lowNames, nameAt: lowNameAt,
    xSide: 'bottom', xHeight: 65, frameX: true,
    padding: { top: 4, bottom: 0 }
});
</script>
</body>
</html>
